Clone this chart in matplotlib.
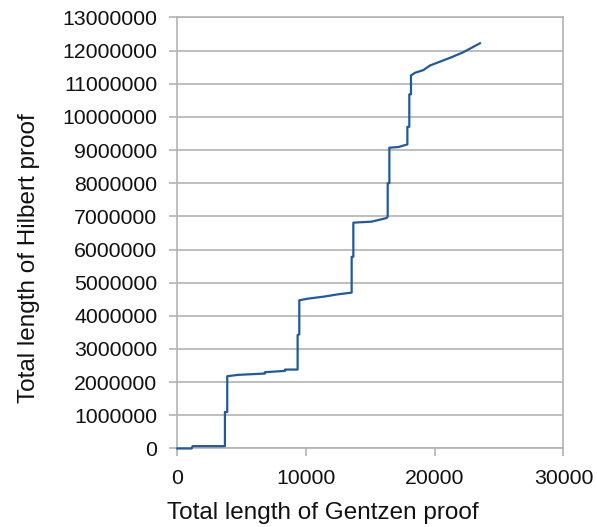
import matplotlib
matplotlib.use("Agg")
import matplotlib.pyplot as plt

# Cumulative proof lengths
gentzen_len = [0, 1110, 1190, 3700, 3700, 3880, 3880, 4740, 6810, 6810, 8370, 8370,
               9350, 9350, 9480, 9480, 10180, 11400, 12510, 13550, 13550, 13680, 13680,
               15100, 16270, 16350, 16350, 16480, 16480, 17180, 17880, 17880, 18030,
               18030, 18160, 18160, 18470, 19120, 19640, 21320, 22230, 23520]
hilbert_len = [0, 0, 70000, 70000, 1100000, 1100000, 2180000, 2220000, 2260000, 2300000,
               2340000, 2380000, 2380000, 3420000, 3440000, 4470000, 4520000, 4580000,
               4650000, 4700000, 5780000, 5780000, 6810000, 6840000, 6950000, 6990000,
               8000000, 8000000, 9070000, 9090000, 9170000, 9700000, 9700000, 10680000,
               10680000, 11250000, 11330000, 11410000, 11550000, 11800000, 11950000,
               12220000]

x_ticks = [0, 10000, 20000, 30000]
y_ticks = list(range(0, 13000001, 1000000))

plt.rcParams["font.family"] = ["Liberation Sans", "DejaVu Sans"]
grey = "#b3b3b3"

fig = plt.figure(figsize=(5.97, 5.27), dpi=100)
ax = fig.add_axes([0.297, 0.149, 0.6466, 0.818])

ax.plot(gentzen_len, hilbert_len, color="#1f5b9c", lw=1.6, zorder=3, clip_on=False)

ax.set_xlim(0, 30000)
ax.set_ylim(0, 13000000)
ax.set_xticks(x_ticks)
ax.set_yticks(y_ticks)
ax.set_xticklabels([str(v) for v in x_ticks])
ax.set_yticklabels([str(v) for v in y_ticks])
ax.yaxis.grid(True, color=grey, lw=1.2)
ax.set_axisbelow(True)
for side in ["left", "right", "bottom", "top"]:
    ax.spines[side].set_color(grey)
    ax.spines[side].set_linewidth(1.2)
ax.tick_params(axis="both", colors=grey, labelcolor="#111111", labelsize=15.3,
               length=5.5, width=1.2)
ax.tick_params(axis="y", pad=9)
ax.tick_params(axis="x", pad=9)

fig.text(0.049, 0.51, "Total length of Hilbert proof", rotation=90,
         ha="center", va="center", fontsize=17.5, color="#111111")
fig.text(0.541, 0.026, "Total length of Gentzen proof",
         ha="center", va="center", fontsize=17.5, color="#111111")

fig.savefig("out.png", dpi=100)
